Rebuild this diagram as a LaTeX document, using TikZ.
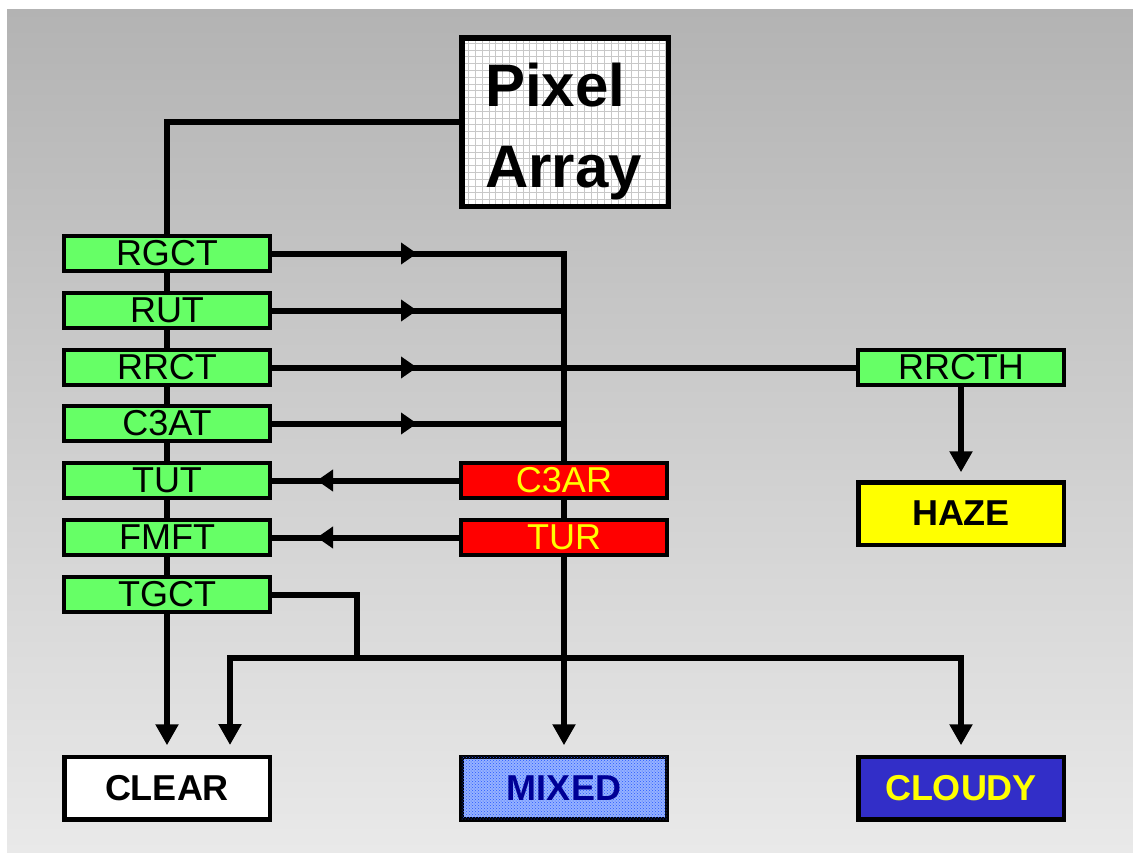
\documentclass[tikz,border=0pt]{standalone}
\usepackage{fontspec}
\setmainfont{Liberation Sans}
\usetikzlibrary{arrows.meta,decorations.markings,patterns}
\pgfdeclarelayer{back}
\pgfdeclarelayer{conn}
\pgfsetlayers{back,conn,main}
\definecolor{bgtop}{RGB}{179,179,179}
\definecolor{bgbot}{RGB}{233,233,233}
\definecolor{grn}{RGB}{102,255,102}
\definecolor{rd}{RGB}{255,0,0}
\definecolor{ylw}{RGB}{255,255,0}
\definecolor{cloudyc}{RGB}{50,46,200}
\definecolor{mixfill}{RGB}{150,178,255}
\definecolor{mixdot}{RGB}{40,90,255}
\definecolor{mixtext}{RGB}{0,0,150}
\definecolor{gridc}{RGB}{200,200,200}
\tikzset{
  box/.style={draw=black, line width=4pt, inner sep=0pt, outer sep=0pt,
    minimum width=206pt, minimum height=35pt,
    font=\fontsize{36}{36}\selectfont},
  greenbox/.style={box, fill=grn},
  redbox/.style={box, fill=rd, text=ylw},
  bigbox/.style={box, line width=4.5pt, minimum width=205.5pt, minimum height=62.5pt,
    font=\bfseries\fontsize{36}{36}\selectfont},
  pabox/.style={draw=black, line width=5.5pt, fill=white, inner sep=0pt, outer sep=0pt,
    minimum width=206.5pt, minimum height=168.5pt,
    path picture={
      \foreach \k in {0,...,32}{
        \draw[gridc, line width=0.7pt]
          ([xshift=\k*6.8pt]path picture bounding box.south west) --
          ([xshift=\k*6.8pt]path picture bounding box.north west);
        \draw[gridc, line width=0.7pt]
          ([yshift=\k*6.8pt]path picture bounding box.south west) --
          ([yshift=\k*6.8pt]path picture bounding box.south east);
      }}},
  conn/.style={draw=black, line width=6pt},
  arr/.style={conn, -{Triangle[length=21pt,width=22pt]}},
  midarr/.style={postaction={decorate}, decoration={markings,
    mark=at position #1 with {\arrow{Triangle[length=16pt,width=21pt]}}}}
}
\begin{document}
\begin{tikzpicture}[x=1pt,y=-1pt]
\useasboundingbox (0,0) rectangle (1133,852);
\begin{pgfonlayer}{back}
  \fill[white] (0,0) rectangle (1133,852);
  \shade[top color=bgtop, bottom color=bgbot] (7,9) rectangle (1133,852);
\end{pgfonlayer}

% nodes
\node[pabox] (pa) at (565,122) {};
\node[anchor=north west, align=left, inner sep=0pt,
      font=\bfseries\fontsize{60}{81}\selectfont] (patext) at (485,63) {Pixel\\Array};

\node[greenbox] (rgct) at (167,253.5) {\raisebox{-1.5pt}{RGCT}};
\node[greenbox] (rut)  at (167,310.5) {\raisebox{-1.5pt}{RUT}};
\node[greenbox] (rrct) at (167,367.5) {\raisebox{-1.5pt}{RRCT}};
\node[greenbox] (c3at) at (167,423.5) {\raisebox{-1.5pt}{C3AT}};
\node[greenbox] (tut)  at (167,480.5) {\raisebox{-1.5pt}{TUT}};
\node[greenbox] (fmft) at (167,537.5) {\raisebox{-1.5pt}{FMFT}};
\node[greenbox] (tgct) at (167,594.5) {\raisebox{-1.5pt}{TGCT}};

\node[greenbox] (rrcth) at (961,367.5) {\raisebox{-1.5pt}{RRCTH}};
\node[redbox] (c3ar) at (564,480.5) {\raisebox{-1.5pt}{C3AR}};
\node[redbox] (tur)  at (564,537.5) {\raisebox{-1.5pt}{TUR}};

\node[bigbox, fill=ylw] (haze) at (961,513.5) {HAZE};
\node[bigbox, fill=white] (clear) at (167,788) {CLEAR};
\node[bigbox, fill=mixfill,
      postaction={pattern=crosshatch dots, pattern color=mixdot}] (mixedbg) at (564,788) {};
\node[inner sep=0pt, text=mixtext, font=\bfseries\fontsize{36}{36}\selectfont] (mixed) at (564,788) {MIXED};
\node[bigbox, fill=cloudyc, text=ylw] (cloudy) at (961,788) {CLOUDY};

\coordinate (j) at (357,658);
\coordinate (clr2) at (230,745);

% connectors
\begin{pgfonlayer}{conn}
  \draw[arr, shorten >=11.5pt] (pa.west) -| (clear.north);
  \draw[arr, shorten >=11.5pt, midarr=147pt] (rgct.east) -| (mixedbg.north);
  \draw[conn, midarr=147pt] (rut.east) -- (rut.east -| mixedbg.north);
  \draw[conn, midarr=147pt] (rrct.east) -- (rrcth.west);
  \draw[conn, midarr=147pt] (c3at.east) -- (c3at.east -| mixedbg.north);
  \draw[conn, midarr=144pt] (c3ar.west) -- (tut.east);
  \draw[conn, midarr=144pt] (tur.west) -- (fmft.east);
  \draw[conn] (tgct.east) -| (j);
  \draw[arr] (j) -| (clr2);
  \draw[arr, shorten >=11.5pt] (j) -| (cloudy.north);
  \draw[arr, shorten >=10pt] (rrcth.south) -- (haze.north);
\end{pgfonlayer}
\end{tikzpicture}
\end{document}
